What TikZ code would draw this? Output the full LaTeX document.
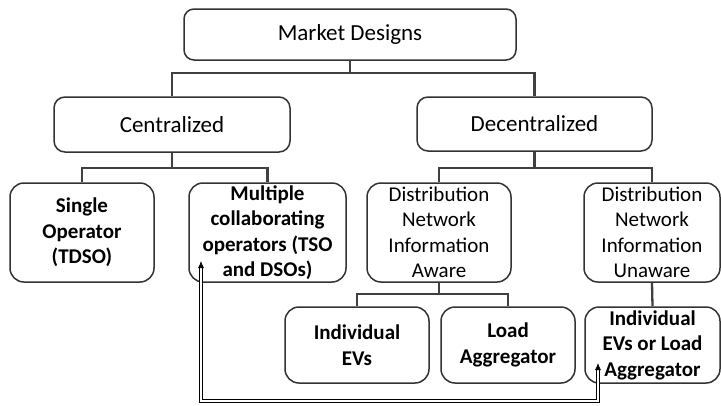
\documentclass[tikz,border=0pt]{standalone}
\usepackage{fontspec}
\setmainfont{Carlito}
\usetikzlibrary{arrows.meta}
\tikzset{
  box/.style={draw=black!80, line width=1.5pt, rounded corners=14pt, align=center, inner sep=0pt, fill=white},
  bigtxt/.style={font=\fontsize{23}{28}\selectfont},
  smalltxt/.style={font=\fontsize{21}{25.5}\selectfont},
  conn/.style={draw=black!75, line width=2.3pt},
  dbl/.style={draw=black, double=white, double distance=2pt, line width=0.8pt,
     {Latex[length=7pt,width=6pt]}-{Latex[length=7pt,width=6pt]}}
}
\begin{document}
\begin{tikzpicture}[x=1pt,y=-1pt]
\useasboundingbox (0,0) rectangle (721,405);
% level 1
\node[box, bigtxt, rounded corners=10pt, minimum width=332pt, minimum height=51pt] (md) at (350,34.5) {Market Designs};
% level 2
\node[box, bigtxt, rounded corners=11pt, minimum width=236pt, minimum height=55pt] (cen) at (172,124.5) {Centralized};
\node[box, bigtxt, rounded corners=11pt, minimum width=235pt, minimum height=54pt] (dec) at (534.5,124) {Decentralized};
% level 3
\node[box, smalltxt, minimum width=144pt, minimum height=99pt] (so) at (82,232.5) {\textbf{Single}\\\textbf{Operator}\\\textbf{(TDSO)}};
\node[box, smalltxt, minimum width=157pt, minimum height=99pt] (mc) at (267.5,232.5) {\textbf{Multiple}\\\textbf{collaborating}\\\textbf{operators (TSO}\\\textbf{and DSOs)}};
\node[box, smalltxt, minimum width=144pt, minimum height=99pt] (dna) at (439,232.5) {Distribution\\Network\\Information\\Aware};
\node[box, smalltxt, minimum width=136pt, minimum height=99pt] (dnu) at (652,232.5) {Distribution\\Network\\Information\\Unaware};
% level 4
\node[box, smalltxt, minimum width=144pt, minimum height=76pt] (iev) at (357,345) {\textbf{Individual}\\\textbf{EVs}};
\node[box, smalltxt, minimum width=134pt, minimum height=76pt] (la) at (508,345) {\textbf{Load}\\\textbf{Aggregator}};
\node[box, smalltxt, minimum width=135pt, minimum height=76pt] (ievla) at (652.5,345) {\textbf{Individual}\\\textbf{EVs or Load}\\\textbf{Aggregator}};
% connectors
\coordinate (b1) at (350,73);
\draw[conn] (md.south) -- (b1);
\draw[conn] (cen.north) |- (b1) -| (dec.north);
\coordinate (b2) at (172,168);
\draw[conn] (cen.south) -- (b2);
\draw[conn] (so.north) |- (b2) -| (mc.north);
\coordinate (b3) at (534.5,168);
\draw[conn] (dec.south) -- (b3);
\draw[conn] (dna.north) |- (b3) -| (dnu.north);
\coordinate (b4) at (439,294);
\draw[conn] (dna.south) -- (b4);
\draw[conn] (iev.north) |- (b4) -| (la.north);
\draw[conn] (dnu.south) -- (ievla.north);
% double arrow
\coordinate (a1) at (201,261);
\coordinate (a2) at (598,363);
\coordinate (a3) at (201,401);
\draw[dbl] (a1) -- (a3) -| (a2);
\end{tikzpicture}
\end{document}
